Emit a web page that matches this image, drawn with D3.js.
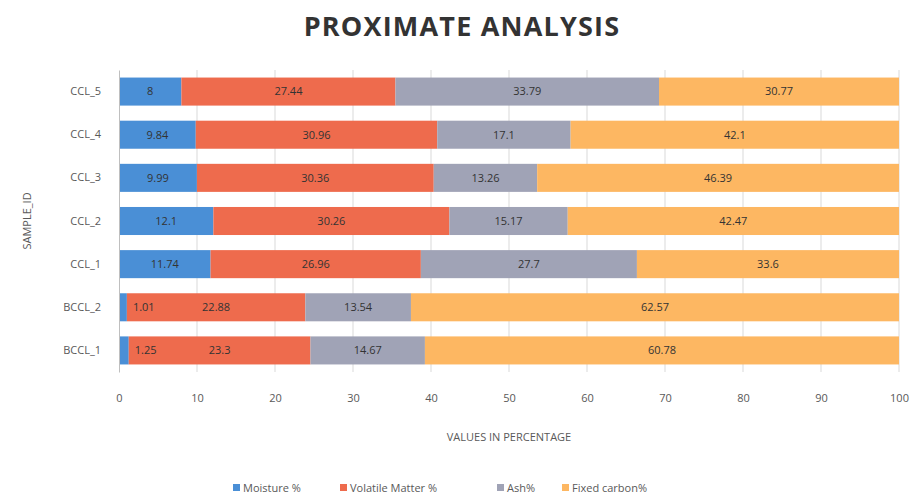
<!DOCTYPE html>
<html>
<head>
<meta charset="utf-8">
<script src="https://cdn.jsdelivr.net/npm/d3@7"></script>
<style>
  body { margin: 0; background: #fff; }
  svg { font-family: 'Open Sans', 'Liberation Sans', sans-serif; }
</style>
</head>
<body>
<div id="chart"></div>
<script>
// samples, top to bottom as drawn
const samples = ['CCL_5', 'CCL_4', 'CCL_3', 'CCL_2', 'CCL_1', 'BCCL_2', 'BCCL_1'];
const seriesNames = ['Moisture %', 'Volatile Matter %', 'Ash%', 'Fixed carbon%'];
const moisture = [8, 9.84, 9.99, 12.1, 11.74, 1.01, 1.25];
const volatileMatter = [27.44, 30.96, 30.36, 30.26, 26.96, 22.88, 23.3];
const ash = [33.79, 17.1, 13.26, 15.17, 27.7, 13.54, 14.67];
const fixedCarbon = [30.77, 42.1, 46.39, 42.47, 33.6, 62.57, 60.78];
const xTicks = [0, 10, 20, 30, 40, 50, 60, 70, 80, 90, 100];
const colors = ['#4A8FD6', '#EE6B4D', '#A0A3B6', '#FDB762'];

const width = 915, height = 497;
const margin = { top: 70, right: 16, bottom: 125, left: 119 };

const rows = samples.map((s, i) => ({
  sample: s,
  'Moisture %': moisture[i],
  'Volatile Matter %': volatileMatter[i],
  'Ash%': ash[i],
  'Fixed carbon%': fixedCarbon[i]
}));
const stacked = d3.stack().keys(seriesNames)(rows);

const svg = d3.select('#chart').append('svg')
  .attr('width', width)
  .attr('height', height);

const x = d3.scaleLinear().domain([0, 100]).range([margin.left, width - margin.right]);
const y = d3.scaleBand().domain(samples)
  .range([margin.top, height - margin.bottom])
  .paddingInner(0.35).paddingOuter(0.175);

// title
svg.append('text')
  .attr('x', 462).attr('y', 36)
  .attr('text-anchor', 'middle')
  .attr('font-size', 27).attr('font-weight', 'bold')
  .attr('letter-spacing', 1.2)
  .attr('fill', '#333')
  .text('PROXIMATE ANALYSIS');

// gridlines
svg.append('g')
  .selectAll('line')
  .data(xTicks.slice(1))
  .enter().append('line')
  .attr('x1', d => x(d)).attr('x2', d => x(d))
  .attr('y1', margin.top).attr('y2', height - margin.bottom)
  .attr('stroke', '#d9d9d9').attr('stroke-width', 1);

// bars
const layer = svg.append('g')
  .selectAll('g')
  .data(stacked)
  .enter().append('g')
  .attr('fill', (d, i) => colors[i]);

layer.selectAll('rect')
  .data(d => d)
  .enter().append('rect')
  .attr('x', d => x(d[0]))
  .attr('y', d => y(d.data.sample))
  .attr('width', d => x(d[1]) - x(d[0]))
  .attr('height', y.bandwidth());

// data labels, drawn above all bars
const labels = stacked.flatMap(s => s.map(p => ({ p: p, key: s.key })));
svg.append('g')
  .selectAll('text')
  .data(labels)
  .enter().append('text')
  .attr('x', d => {
    const v = d.p[1] - d.p[0];
    return v < 3 ? x(d.p[1]) + 6 : x((d.p[0] + d.p[1]) / 2);
  })
  .attr('y', d => y(d.p.data.sample) + y.bandwidth() / 2)
  .attr('dy', '0.35em')
  .attr('text-anchor', d => (d.p[1] - d.p[0]) < 3 ? 'start' : 'middle')
  .attr('font-size', 11)
  .attr('fill', '#333')
  .text(d => d.p.data[d.key]);

// x axis
const xAxis = svg.append('g')
  .attr('transform', `translate(0, ${height - margin.bottom})`)
  .call(d3.axisBottom(x).tickValues(xTicks).tickSize(0).tickPadding(22));
xAxis.select('.domain').remove();
xAxis.selectAll('text').attr('font-size', 11).attr('fill', '#595959')
  .attr('font-family', "'Open Sans', sans-serif");

// y axis
const yAxis = svg.append('g')
  .attr('transform', `translate(${margin.left}, 0)`)
  .call(d3.axisLeft(y).tickSize(0).tickPadding(18));
yAxis.select('.domain').attr('stroke', '#bfbfbf');
yAxis.selectAll('text').attr('font-size', 11).attr('fill', '#595959')
  .attr('font-family', "'Open Sans', sans-serif");

// axis titles
svg.append('text')
  .attr('x', x(50)).attr('y', 441)
  .attr('text-anchor', 'middle')
  .attr('font-size', 11).attr('fill', '#595959')
  .text('VALUES IN PERCENTAGE');

svg.append('text')
  .attr('transform', `translate(31, ${(margin.top + height - margin.bottom) / 2}) rotate(-90)`)
  .attr('text-anchor', 'middle')
  .attr('font-size', 11).attr('fill', '#595959')
  .text('SAMPLE_ID');

// legend
const legend = svg.append('g').attr('transform', 'translate(0, 488)');
const legendX = [233, 340, 497, 562];
const item = legend.selectAll('g')
  .data(seriesNames)
  .enter().append('g')
  .attr('transform', (d, i) => `translate(${legendX[i]}, 0)`);
item.append('rect')
  .attr('x', 0).attr('y', -4)
  .attr('width', 7).attr('height', 7)
  .attr('fill', (d, i) => colors[i]);
item.append('text')
  .attr('x', 10).attr('y', 0).attr('dy', '0.35em')
  .attr('font-size', 11).attr('fill', '#595959')
  .text(d => d);
</script>
</body>
</html>
